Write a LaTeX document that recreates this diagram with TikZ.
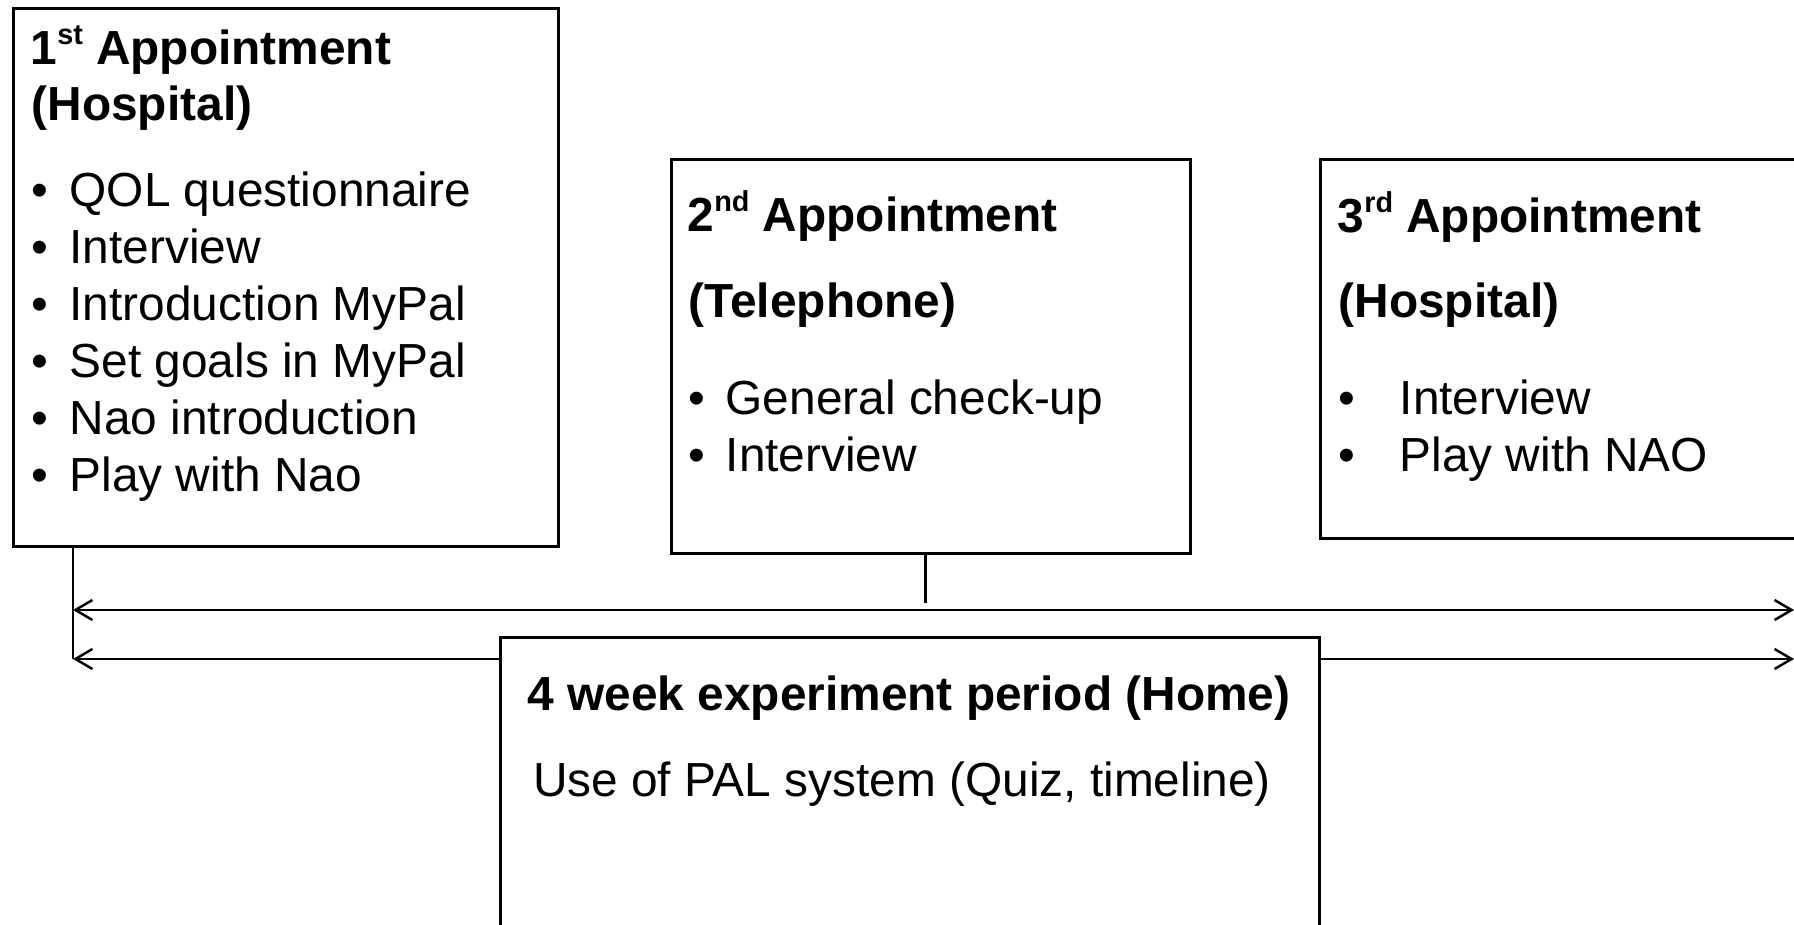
\documentclass[tikz,border=0pt]{standalone}
\usepackage{fontspec}
\setmainfont{Liberation Sans}
\usetikzlibrary{arrows.meta}
\newcommand\mainsz{\fontsize{13.6pt}{16pt}\selectfont}
\newcommand\supx[1]{\raisebox{0.42em}{\fontsize{8.2pt}{8.2pt}\selectfont #1}}
\begin{document}
\begin{tikzpicture}[x=0.01cm,y=-0.01cm,
  box/.style={draw,line width=0.75pt,fill=white,anchor=north west,inner sep=0},
  txt/.style={anchor=base west,inner sep=0,font=\mainsz},
  ttl/.style={anchor=base west,inner sep=0,font=\mainsz\bfseries},
  ctr/.style={anchor=base,inner sep=0,font=\mainsz},
  ctrb/.style={anchor=base,inner sep=0,font=\mainsz\bfseries},
  vconn/.style={line width=0.85pt},
  arr/.style={line width=0.7pt,-{Straight Barb[length=0.17cm,width=0.2cm]}},
  arrb/.style={line width=0.7pt,{Straight Barb[length=0.17cm,width=0.2cm]}-{Straight Barb[length=0.17cm,width=0.2cm]}}]
\useasboundingbox (0,0) rectangle (1794,925);
\clip (0,0) rectangle (1794,925);
\fill[white] (0,0) rectangle (1794,925);

% boxes
\node[box,minimum width=5.45cm,minimum height=5.38cm] (b1) at (12,7) {};
\node[box,minimum width=5.19cm,minimum height=3.94cm] (b2) at (670,158) {};
\node[box,minimum width=6.00cm,minimum height=3.79cm] (b3) at (1319,158) {};

% connector coordinates
\coordinate (p1) at (73,610);
\coordinate (p2) at (925,610);
\coordinate (p3) at (1794,610);
\coordinate (q1) at (73,659);
\coordinate (q3) at (1794,659);
\coordinate (v2) at (925,603);

\draw[vconn] (p1 |- b1.south) -- (q1);
\draw[vconn] (p2 |- b2.south) -- (v2);
\draw[arr] (p2) -- (p1);
\draw[arr] (p2) -- (p3);
\draw[arrb] (q1) -- (q3);

\node[box,minimum width=8.19cm,minimum height=4.00cm] (b4) at (499,636) {};

% box 1 text
\node[ttl] (t1a) at (30,65) {1\supx{st} Appointment};
\node[ttl] (t1b) at (31,121) {(Hospital)};
\node[txt] (d1a) at (31,207) {•};
\node[txt] (d1b) at (31,264) {•};
\node[txt] (d1c) at (31,321) {•};
\node[txt] (d1d) at (31,378) {•};
\node[txt] (d1e) at (31,435) {•};
\node[txt] (d1f) at (31,492) {•};
\node[txt] (i1a) at (69,207) {QOL questionnaire};
\node[txt] (i1b) at (69,264) {Interview};
\node[txt] (i1c) at (69,321) {Introduction MyPal};
\node[txt] (i1d) at (69,378) {Set goals in MyPal};
\node[txt] (i1e) at (69,435) {Nao introduction};
\node[txt] (i1f) at (69,492) {Play with Nao};

% box 2 text
\node[ttl] (t2a) at (687,232) {2\supx{nd} Appointment};
\node[ttl] (t2b) at (688,318) {(Telephone)};
\node[txt] (d2a) at (688,415) {•};
\node[txt] (d2b) at (688,472) {•};
\node[txt] (i2a) at (725,415) {General check-up};
\node[txt] (i2b) at (725,472) {Interview};

% box 3 text
\node[ttl] (t3a) at (1337,233) {3\supx{rd} Appointment};
\node[ttl] (t3b) at (1338,318) {(Hospital)};
\node[txt] (d3a) at (1338,415) {•};
\node[txt] (d3b) at (1338,472) {•};
\node[txt] (i3a) at (1399,415) {Interview};
\node[txt] (i3b) at (1399,472) {Play with NAO};

% box 4 text
\node[ctrb] (t4a) at (909,711) {4 week experiment period (Home)};
\node[ctr] (t4b) at (902,797) {Use of PAL system (Quiz, timeline)};
\end{tikzpicture}
\end{document}
